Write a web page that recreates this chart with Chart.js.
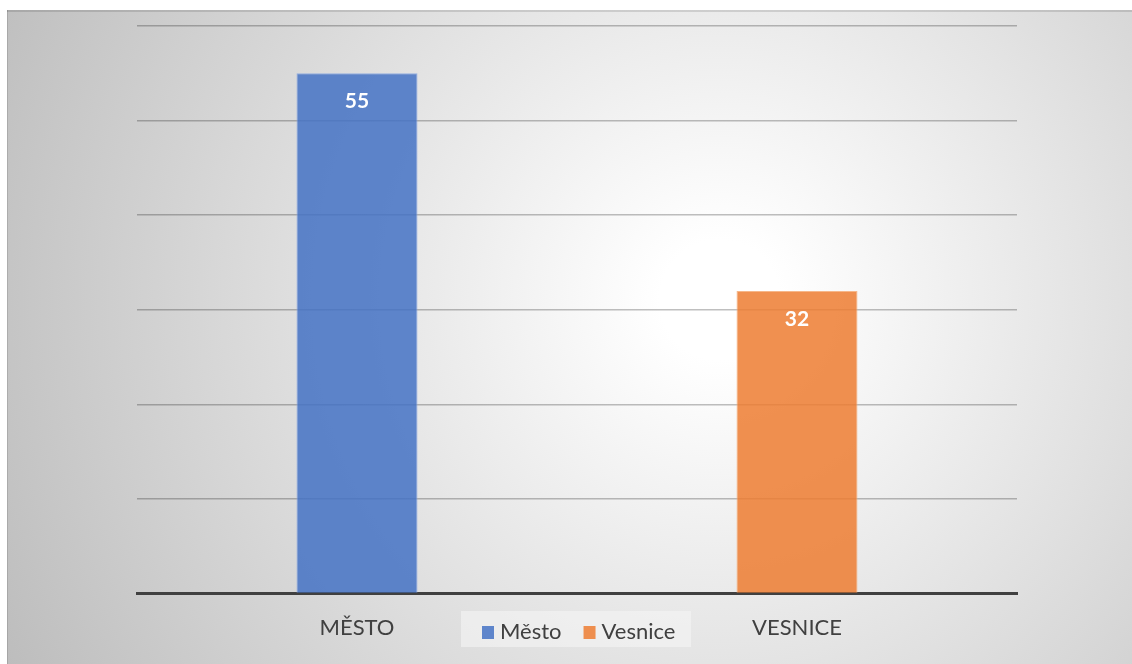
<!DOCTYPE html>
<html>
<head>
<meta charset="utf-8">
<script src="https://cdn.jsdelivr.net/npm/chart.js@4/dist/chart.umd.min.js"></script>
<style>
    html, body { margin: 0; padding: 0; background: #ffffff; }
    #wrap { width: 1132px; height: 664px; }
</style>
</head>
<body>
<div id="wrap"><canvas id="myChart"></canvas></div>
<script>
"use strict"

// data
const categories = ["MĚSTO", "VESNICE"]
const seriesNames = ["Město", "Vesnice"]
const mestoValues = [55, null]
const vesniceValues = [null, 32]
const yMax = 60
const yStep = 10

const blue = 'rgba(68, 114, 196, 0.85)'
const orange = 'rgba(237, 125, 49, 0.85)'
const font = "Lato, 'Liberation Sans', sans-serif"

// background: framed radial gradient
const backgroundPlugin = {
    id: 'background',
    beforeDraw(chart) {
        let ctx = chart.ctx
        ctx.save()
        let grad = ctx.createRadialGradient(720, 300, 60, 720, 300, 800)
        grad.addColorStop(0, '#ffffff')
        grad.addColorStop(1, '#bdbdbd')
        ctx.fillStyle = grad
        ctx.fillRect(7, 10, chart.width - 7, chart.height - 10)
        ctx.fillStyle = 'rgba(0,0,0,0.12)'
        ctx.fillRect(7, 10, chart.width - 7, 2)
        ctx.fillRect(7, 10, 1, chart.height - 10)
        ctx.restore()
    }
}

// value labels inside top of bars
const valueLabelPlugin = {
    id: 'valueLabels',
    afterDatasetsDraw(chart) {
        let ctx = chart.ctx
        ctx.save()
        ctx.fillStyle = '#ffffff'
        ctx.font = "bold 21px " + font
        ctx.textAlign = 'center'
        ctx.textBaseline = 'middle'
        chart.data.datasets.forEach((ds, i) => {
            let meta = chart.getDatasetMeta(i)
            meta.data.forEach((bar, j) => {
                if (ds.data[j] == null) return
                ctx.fillText(ds.data[j], bar.x, bar.y + 28)
            })
        })
        ctx.restore()
    }
}

// legend sitting between the category labels
const legendPlugin = {
    id: 'bottomLegend',
    afterDraw(chart) {
        let ctx = chart.ctx
        ctx.save()
        ctx.fillStyle = 'rgba(245,245,245,0.6)'
        ctx.fillRect(461, 611, 230, 36)
        ctx.font = "22px " + font
        ctx.textBaseline = 'middle'
        ctx.textAlign = 'left'
        let x = 482
        let y = 632
        chart.data.datasets.forEach((ds) => {
            ctx.fillStyle = ds.backgroundColor
            ctx.fillRect(x, y - 6, 12, 13)
            ctx.fillStyle = '#404040'
            ctx.fillText(ds.label, x + 18, y)
            x += 18 + ctx.measureText(ds.label).width + 22
        })
        ctx.restore()
    }
}

let ctx = document.getElementById('myChart').getContext('2d')
ctx.canvas.width = 1132
ctx.canvas.height = 664

let myChart = new Chart(ctx, {
    type: 'bar',
    data: {
        labels: categories,
        datasets: [{
            label: seriesNames[0],
            data: mestoValues,
            backgroundColor: blue,
            borderColor: 'rgba(140, 170, 225, 0.9)',
            borderWidth: 1,
            skipNull: true
        }, {
            label: seriesNames[1],
            data: vesniceValues,
            backgroundColor: orange,
            borderColor: 'rgba(245, 175, 125, 0.9)',
            borderWidth: 1,
            skipNull: true
        }]
    },
    options: {
        responsive: false,
        animation: false,
        categoryPercentage: 0.55,
        barPercentage: 0.5,
        layout: {
            padding: { left: 137, right: 115, top: 26, bottom: 2 }
        },
        plugins: {
            legend: { display: false },
            tooltip: { enabled: false }
        },
        scales: {
            x: {
                grid: { display: false, drawTicks: false },
                border: { display: true, color: '#404040', width: 3 },
                ticks: {
                    padding: 21,
                    color: '#404040',
                    font: { size: 22, family: font }
                }
            },
            y: {
                min: 0,
                max: yMax,
                ticks: { display: false, stepSize: yStep },
                border: { display: false },
                grid: {
                    drawTicks: false,
                    lineWidth: 1.5,
                    color: (c) => c.tick && c.tick.value === 0 ? 'rgba(0,0,0,0)' : 'rgba(0,0,0,0.25)'
                }
            }
        }
    },
    plugins: [backgroundPlugin, valueLabelPlugin, legendPlugin]
})
</script>
</body>
</html>
